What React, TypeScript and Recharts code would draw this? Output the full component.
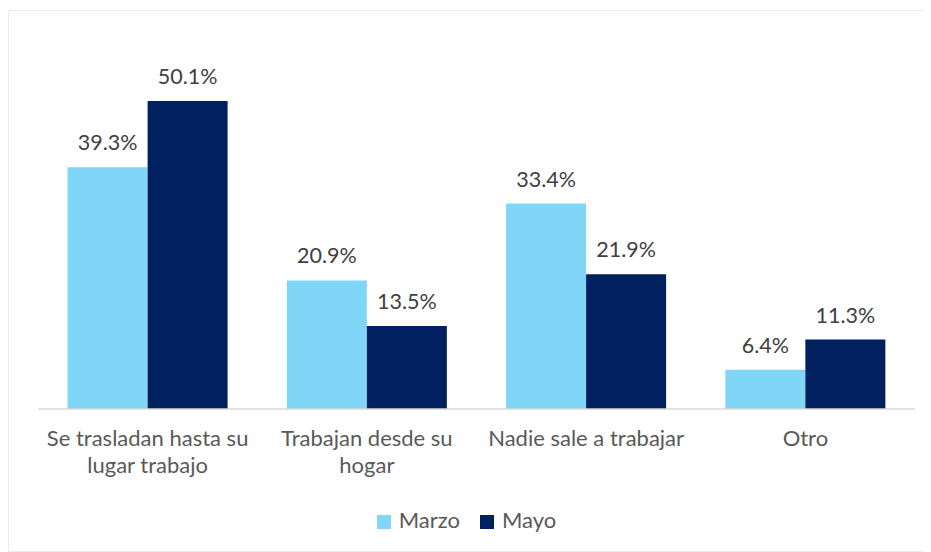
import React from 'react'
import { BarChart, Bar, XAxis, YAxis, Legend, LabelList } from 'recharts'

const categories = [
  'Se trasladan hasta su\nlugar trabajo',
  'Trabajan desde su\nhogar',
  'Nadie sale a trabajar',
  'Otro',
]
const marzo = [39.3, 20.9, 33.4, 6.4]
const mayo = [50.1, 13.5, 21.9, 11.3]

const data = categories.map((name, i) => ({ name, marzo: marzo[i], mayo: mayo[i] }))

const FONT = 'Lato, "Open Sans", sans-serif'

const CategoryTick = (props: any) => {
  const { x, y, payload } = props
  const lines = String(payload.value).split('\n')
  return (
    <text x={x} y={y} textAnchor="middle" fill="#595959" fontSize={22} fontFamily={FONT}>
      {lines.map((line, i) => (
        <tspan key={i} x={x} dy={i === 0 ? 29 : 27}>
          {line}
        </tspan>
      ))}
    </text>
  )
}

const App = () => {
  return (
    <div
      style={{
        width: 921,
        height: 542,
        marginTop: 2,
        border: '1px solid #ececec',
        boxSizing: 'border-box',
        background: '#fff',
      }}
    >
      <BarChart
        width={919}
        height={540}
        data={data}
        margin={{ top: 29, right: 13, left: 29, bottom: 10 }}
        barCategoryGap="13.5%"
        barGap={0}
      >
        <XAxis
          dataKey="name"
          tick={<CategoryTick />}
          tickLine={false}
          axisLine={{ stroke: '#d9d9d9', strokeWidth: 1.5 }}
          interval={0}
          height={97}
        />
        <YAxis hide domain={[0, 60]} />
        <Legend
          verticalAlign="bottom"
          iconType="square"
          iconSize={14}
          wrapperStyle={{ fontFamily: FONT, fontSize: 22, color: '#595959', paddingBottom: 8 }}
          formatter={(value: string) => (
            <span style={{ color: '#595959', marginLeft: 4, marginRight: 10 }}>{value}</span>
          )}
        />
        <Bar dataKey="marzo" name="Marzo" fill="#7fd6f7" isAnimationActive={false}>
          <LabelList
            dataKey="marzo"
            position="top"
            offset={17}
            formatter={(v: any) => `${v}%`}
            fill="#404040"
            fontSize={21.5}
            fontFamily={FONT}
          />
        </Bar>
        <Bar dataKey="mayo" name="Mayo" fill="#002060" isAnimationActive={false}>
          <LabelList
            dataKey="mayo"
            position="top"
            offset={17}
            formatter={(v: any) => `${v}%`}
            fill="#404040"
            fontSize={21.5}
            fontFamily={FONT}
          />
        </Bar>
      </BarChart>
    </div>
  )
}

export default App
